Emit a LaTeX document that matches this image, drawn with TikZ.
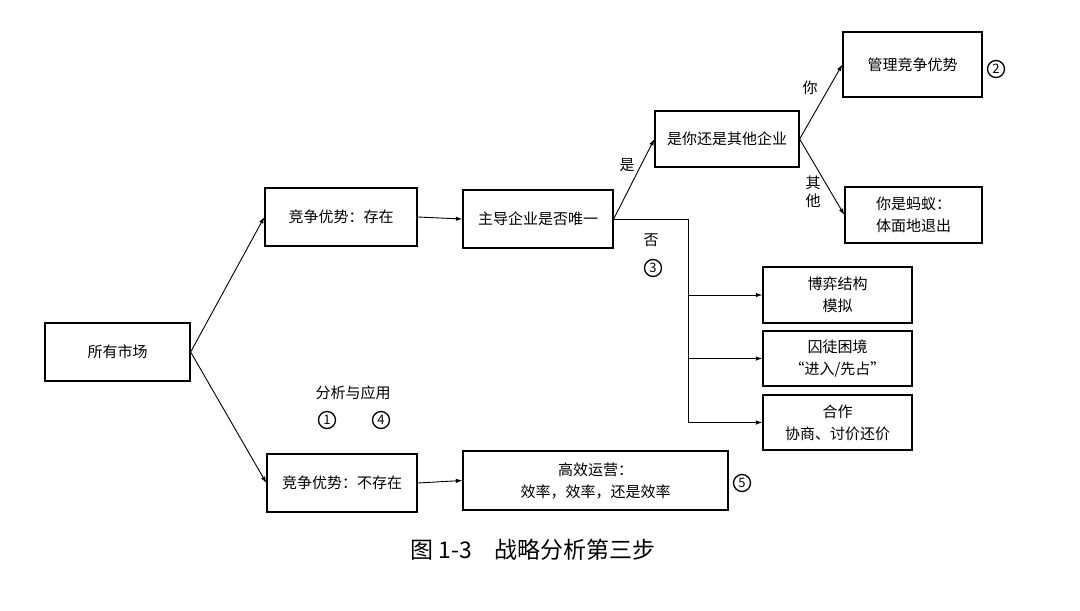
\documentclass[tikz,border=0pt]{standalone}
\usepackage{fontspec}
\setmainfont{Noto Sans CJK SC}
\usetikzlibrary{arrows.meta}
\begin{document}
\begin{tikzpicture}[x=1pt,y=-1pt,
  box/.style={draw,line width=1.3pt,inner sep=0pt,align=center,font=\fontsize{15}{22}\selectfont},
  conn/.style={line width=0.9pt,-{Latex[length=6.5pt,width=4.5pt]}},
  lbl/.style={inner sep=0pt,font=\fontsize{15}{17}\selectfont},
  num/.style={circle,draw,line width=1.3pt,minimum size=17pt,inner sep=0pt,font=\fontsize{13}{14}\selectfont},
  captext/.style={inner sep=0pt,font=\fontsize{23}{25}\selectfont}]
\useasboundingbox (0,0) rectangle (1080,611);
\node[box,minimum width=145pt,minimum height=58pt] (m) at (117.5,352) {所有市场};
\node[box,minimum width=152pt,minimum height=58pt] (e) at (341,217) {竞争优势：存在};
\node[box,minimum width=150pt,minimum height=58pt] (u) at (538,219) {主导企业是否唯一};
\node[box,minimum width=144pt,minimum height=56pt] (y) at (727,139) {是你还是其他企业};
\node[box,minimum width=139pt,minimum height=65pt] (g) at (912.5,64.5) {管理竞争优势};
\node[box,minimum width=137pt,minimum height=56pt] (a) at (913.5,215) {你是蚂蚁：\\体面地退出};
\node[box,minimum width=149pt,minimum height=56pt] (b1) at (837.5,295) {博弈结构\\模拟};
\node[box,minimum width=149pt,minimum height=55pt] (b2) at (837.5,358.5) {囚徒困境\\“进入/先占”};
\node[box,minimum width=149pt,minimum height=55pt] (b3) at (837.5,422.5) {合作\\协商、讨价还价};
\node[box,minimum width=150pt,minimum height=58pt] (n) at (342,483) {竞争优势：不存在};
\node[box,minimum width=265pt,minimum height=59pt] (h) at (595.5,480.5) {高效运营：\\效率，效率，还是效率};
\draw[conn] (m.east) -- (e.west);
\draw[conn] (m.east) -- (n.west);
\draw[conn] (e.east) -- (u.west);
\draw[conn] (u.east) -- (y.west);
\draw[conn] (y.east) -- (g.west);
\draw[conn] (y.east) -- (a.west);
\draw[conn] (n.east) -- (h.west);
\coordinate (t) at (688,219);
\draw[line width=0.9pt] (u.east) -- (t) -- (t |- b3.west);
\draw[conn] (t |- b3.west) -- (b3.west);
\draw[conn] (t |- b1.west) -- (b1.west);
\draw[conn] (t |- b2.west) -- (b2.west);
\node[lbl] (l1) at (627,165) {是};
\node[lbl] (l2) at (810,88) {你};
\node[lbl] (l3) at (813,183) {其};
\node[lbl] (l4) at (813,201) {他};
\node[lbl] (l5) at (651,240) {否};
\node[lbl] (l6) at (353,393) {分析与应用};
\node[num] (c1) at (327,420) {1};
\node[num] (c4) at (381,420) {4};
\node[num] (c2) at (996,69) {2};
\node[num] (c3) at (653,268) {3};
\node[num] (c5) at (742,483) {5};
\node[captext] (capt) at (533,550) {图 1-3\quad 战略分析第三步};
\end{tikzpicture}
\end{document}
